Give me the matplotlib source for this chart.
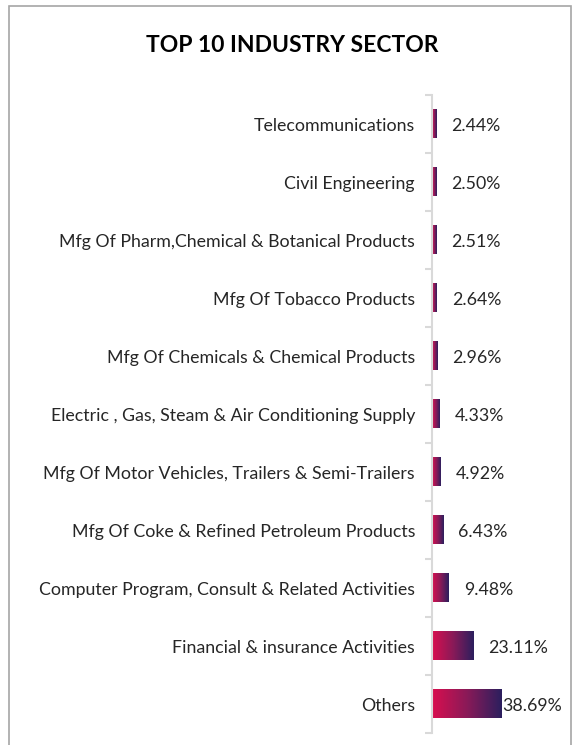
import matplotlib
matplotlib.use("Agg")
import matplotlib.pyplot as plt
import numpy as np
from matplotlib.colors import LinearSegmentedColormap
from matplotlib.patches import Rectangle

categories = [
    "Telecommunications",
    "Civil Engineering",
    "Mfg Of Pharm,Chemical & Botanical Products",
    "Mfg Of Tobacco Products",
    "Mfg Of Chemicals & Chemical Products",
    "Electric , Gas, Steam & Air Conditioning Supply",
    "Mfg Of Motor Vehicles, Trailers & Semi-Trailers",
    "Mfg Of Coke & Refined Petroleum Products",
    "Computer Program, Consult & Related Activities",
    "Financial & insurance Activities",
    "Others",
]
values = [2.44, 2.50, 2.51, 2.64, 2.96, 4.33, 4.92, 6.43, 9.48, 23.11, 38.69]
labels = ["2.44%", "2.50%", "2.51%", "2.64%", "2.96%", "4.33%", "4.92%",
          "6.43%", "9.48%", "23.11%", "38.69%"]
title = "TOP 10 INDUSTRY SECTOR"

plt.rcParams['font.family'] = ['Lato', 'DejaVu Sans']
txt_color = "#262626"
fs = 12.8

W, H = 582, 745
fig = plt.figure(figsize=(W / 100, H / 100), dpi=100)

# outer chart border
fig.add_artist(Rectangle((9 / W, -0.05), (571 - 9) / W, 1.05 - 6 / H,
                         transform=fig.transFigure, fill=False,
                         edgecolor="#a6a6a6", linewidth=1.2))

ax = fig.add_axes([432 / W, 12 / H, 134 / W, (733 - 95) / H])
ax.set_xlim(0, 75)
n = len(categories)
ax.set_ylim(n - 0.5, -0.5)

cmap = LinearSegmentedColormap.from_list("g", ["#d90f4f", "#8a1a58", "#2b1f5e"])
grad = np.linspace(0, 1, 256).reshape(1, -1)
bh = 0.5
for i, v in enumerate(values):
    ax.imshow(grad, cmap=cmap, aspect="auto", extent=[0, v, i + bh / 2, i - bh / 2],
              interpolation="bilinear", zorder=2)

for i, (v, lab) in enumerate(zip(values, labels)):
    off = 15 if v < 30 else 1
    ax.annotate(lab, (v, i), xytext=(off, -2), textcoords="offset pixels",
                ha="left", va="center", fontsize=fs, color=txt_color)

for i, cat in enumerate(categories):
    ax.annotate(cat, (0, i), xytext=(-17, -2), textcoords="offset pixels",
                ha="right", va="center", fontsize=fs, color=txt_color,
                annotation_clip=False)

ax.set_yticks(np.arange(-0.5, n, 1))
ax.set_yticklabels([])
ax.tick_params(axis="y", length=5, color="#d9d9d9", width=1.5)
ax.set_xticks([])
for s in ["top", "right", "bottom"]:
    ax.spines[s].set_visible(False)
ax.spines["left"].set_color("#d9d9d9")
ax.spines["left"].set_linewidth(1.5)

fig.text(292 / W, 1 - 45 / H, title, ha="center", va="center",
         fontsize=16.5, fontweight="bold", color="black")

fig.savefig("out.png", dpi=100)
